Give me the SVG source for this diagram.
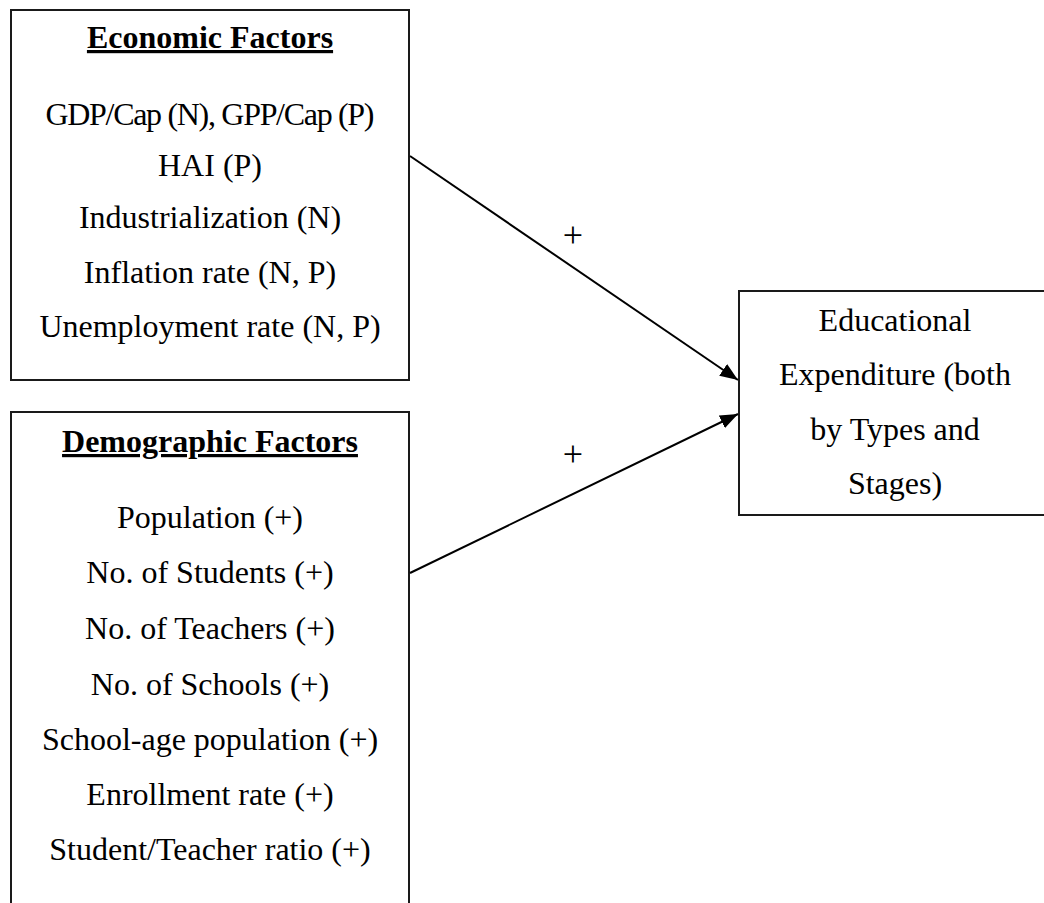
<svg xmlns="http://www.w3.org/2000/svg" width="1044" height="903" viewBox="0 0 1044 903">
  <style>
    .box { fill: #ffffff; stroke: #1a1a1a; stroke-width: 2; }
    .t { font-family: "Liberation Serif", "Times New Roman", serif; font-size: 32px; fill: #000; text-anchor: middle; }
    .title { font-weight: bold; text-decoration: underline; }
    .edge { stroke: #000; stroke-width: 2; fill: none; marker-end: url(#head); }
    .sign { font-family: "Liberation Serif", "Times New Roman", serif; font-size: 36px; fill: #000; text-anchor: middle; }
  </style>
  <defs>
    <marker id="head" markerUnits="userSpaceOnUse" markerWidth="18" markerHeight="14" refX="18" refY="7" orient="auto">
      <path d="M0,0 L18,7 L0,14 Z" fill="#000"/>
    </marker>
  </defs>
  <rect width="1044" height="903" fill="#ffffff"/>

  <g id="economic-factors">
    <rect class="box" x="11" y="10" width="398" height="370"/>
    <text class="t title" x="210" y="48">Economic Factors</text>
    <text class="t" x="210" y="125" textLength="329" lengthAdjust="spacing">GDP/Cap (N), GPP/Cap (P)</text>
    <text class="t" x="210" y="176">HAI (P)</text>
    <text class="t" x="210" y="228">Industrialization (N)</text>
    <text class="t" x="210" y="283">Inflation rate (N, P)</text>
    <text class="t" x="210" y="337">Unemployment rate (N, P)</text>
  </g>

  <g id="demographic-factors">
    <rect class="box" x="11" y="412" width="398" height="520"/>
    <text class="t title" x="210" y="452">Demographic Factors</text>
    <text class="t" x="210" y="528">Population (+)</text>
    <text class="t" x="210" y="583">No. of Students (+)</text>
    <text class="t" x="210" y="639">No. of Teachers (+)</text>
    <text class="t" x="210" y="695">No. of Schools (+)</text>
    <text class="t" x="210" y="750">School-age population (+)</text>
    <text class="t" x="210" y="805">Enrollment rate (+)</text>
    <text class="t" x="210" y="860">Student/Teacher ratio (+)</text>
  </g>

  <g id="educational-expenditure">
    <rect class="box" x="739" y="291" width="330" height="224"/>
    <text class="t" x="895" y="331">Educational</text>
    <text class="t" x="895" y="385">Expenditure (both</text>
    <text class="t" x="895" y="440">by Types and</text>
    <text class="t" x="895" y="494">Stages)</text>
  </g>

  <g id="connectors">
    <line class="edge" x1="410" y1="156" x2="738" y2="380"/>
    <text class="sign" x="573" y="247">+</text>
    <line class="edge" x1="410" y1="573" x2="738" y2="414"/>
    <text class="sign" x="573" y="466">+</text>
  </g>
</svg>
